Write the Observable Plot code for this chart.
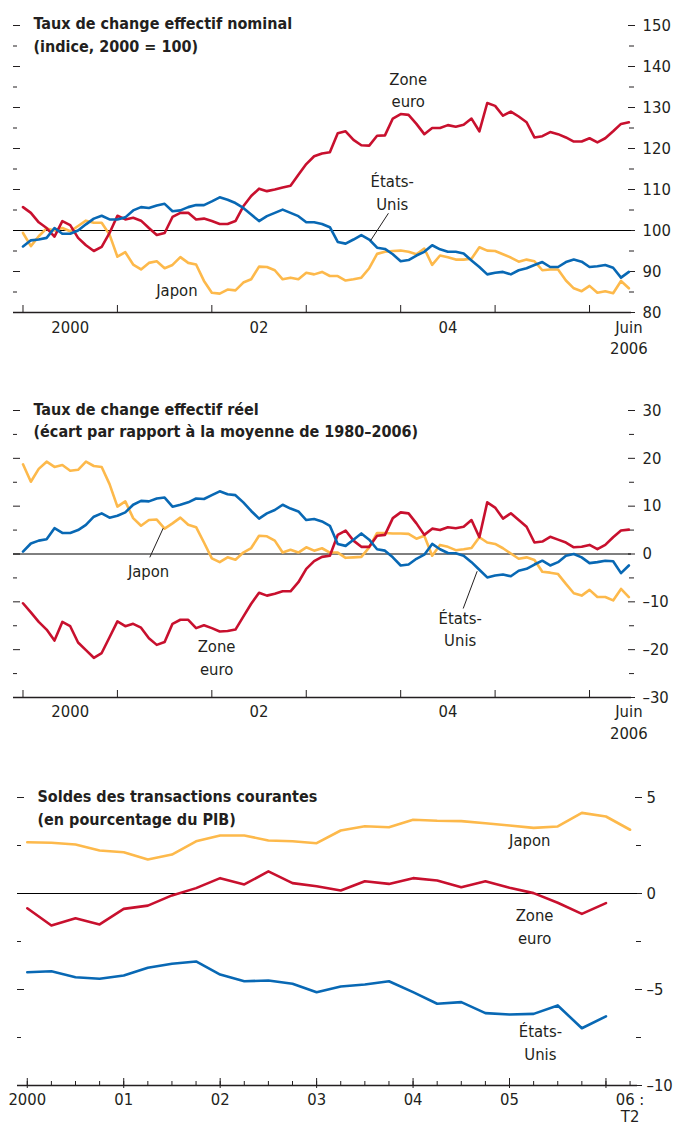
<!DOCTYPE html>
<html><head><meta charset="utf-8">
<script src="https://cdn.jsdelivr.net/npm/d3@7"></script>
<script src="https://cdn.jsdelivr.net/npm/@observablehq/plot@0.6"></script>
<style>
body{margin:0;background:#fff;}
#chart svg{display:block;}
</style></head><body><div id="chart"></div>
<script>
// ---------- DATA ----------
const seriesNames = ["Japon", "Zone euro", "États-Unis"];
const startYear = 2000; // monthly series start January 2000, end June 2006

// Taux de change effectif nominal (indice, 2000 = 100), mensuel
const nominalEuro = [105.7,104.3,102.0,100.6,98.5,102.3,101.3,98.2,96.4,95.0,96.0,99.4,103.6,102.7,103.1,102.4,100.6,98.9,99.4,103.3,104.3,104.3,102.7,102.9,102.3,101.6,
  101.6,102.3,105.9,108.4,110.2,109.6,110.0,110.5,110.9,113.6,116.2,118.1,118.8,119.1,123.7,124.2,122.1,120.8,120.7,123.1,123.2,127.3,128.4,128.2,126.0,
  123.5,125.0,125.0,125.7,125.3,125.8,127.3,124.2,131.1,130.4,128.0,129.0,127.8,126.4,122.7,123.0,124.0,123.5,122.7,121.7,121.7,122.5,121.5,122.5,124.2,126.0,126.4];
const nominalUS = [96.1,97.6,97.8,98.2,100.6,99.2,99.2,100.0,101.5,102.9,103.6,102.7,102.7,103.2,104.9,105.7,105.5,106.1,106.5,104.7,104.9,105.7,106.2,106.2,107.1,108.1,
  107.5,106.7,105.5,103.9,102.3,103.5,104.3,105.1,104.3,103.5,102.0,102.0,101.6,100.8,97.2,96.8,97.8,98.9,97.8,95.8,95.5,94.2,92.5,92.8,93.9,
  94.8,96.4,95.4,94.8,94.8,94.4,92.7,91.1,89.3,89.7,89.9,89.3,90.3,90.8,91.6,92.3,91.1,91.1,92.3,92.9,92.4,91.1,91.3,91.6,90.9,88.5,89.9];
const nominalJapan = [99.4,96.2,98.6,100.5,100.0,100.6,99.8,101.1,102.4,101.9,101.9,99.0,93.6,94.7,91.7,90.5,92.1,92.5,90.8,91.6,93.5,92.1,91.7,87.7,84.8,84.6,
  85.6,85.4,87.3,88.1,91.2,91.1,90.3,88.1,88.5,88.1,89.7,89.3,89.9,88.9,88.9,87.8,88.1,88.5,90.8,94.3,94.8,95.0,95.1,94.8,94.2,
  95.6,91.6,93.9,93.5,92.9,92.9,93.1,95.9,95.1,95.0,94.2,93.4,92.4,92.9,92.5,90.3,90.5,90.5,87.8,85.9,85.2,86.5,84.8,85.2,84.7,87.7,85.9];

// Taux de change effectif réel (écart par rapport à la moyenne de 1980–2006), mensuel
const realJapan = [18.75,15.1,17.8,19.3,18.2,18.6,17.4,17.6,19.3,18.4,18.2,14.6,9.9,11.0,7.5,5.9,7.1,7.2,5.3,6.4,7.6,6.1,5.6,2.4,-0.9,-1.7,
  -0.7,-1.2,0.3,1.25,3.8,3.7,2.8,0.3,0.9,0.3,1.4,0.7,1.2,0.3,0.3,-0.8,-0.7,-0.6,1.4,4.4,4.4,4.3,4.3,4.2,3.2,
  3.8,-0.35,1.9,1.5,0.8,1.0,1.25,3.5,2.4,2.1,1.2,0.1,-1.0,-0.7,-1.25,-3.7,-3.9,-4.2,-6.25,-8.2,-8.7,-7.5,-9.0,-9.0,-9.7,-7.3,-9.0];
const realEuro = [-10.3,-12.2,-14.2,-15.8,-18.1,-14.2,-15.1,-18.5,-20.1,-21.7,-20.7,-17.4,-14.1,-15.1,-14.6,-15.4,-17.6,-19.0,-18.4,-14.6,-13.75,-13.75,-15.5,-14.9,-15.5,-16.2,
  -16.1,-15.8,-13.1,-10.4,-8.1,-8.7,-8.3,-7.8,-7.8,-5.9,-3.1,-1.5,-0.6,-0.35,4.0,4.9,2.8,1.5,1.5,3.8,4.0,7.5,8.7,8.5,6.4,
  4.0,5.3,5.0,5.6,5.4,5.7,7.1,3.5,10.8,9.7,7.4,8.5,7.1,5.7,2.4,2.6,3.6,3.0,2.4,1.4,1.5,1.9,1.0,1.9,3.5,4.9,5.1];
const realUS = [0.5,2.2,2.8,3.1,5.4,4.4,4.4,5.0,6.1,7.8,8.5,7.6,8.0,8.7,10.3,11.1,11.0,11.6,11.8,9.9,10.3,10.8,11.6,11.5,12.3,13.1,
  12.5,12.3,10.8,9.0,7.4,8.5,9.2,10.3,9.5,8.9,7.1,7.3,6.8,5.9,2.1,1.7,3.0,4.3,3.0,1.0,0.7,-0.7,-2.4,-2.2,-1.0,
  -0.15,2.1,1.0,0.2,0.15,-0.35,-1.7,-3.3,-4.9,-4.5,-4.3,-4.65,-3.5,-3.1,-2.2,-1.4,-2.4,-1.7,-0.35,0,-0.7,-1.9,-1.7,-1.4,-1.5,-4.0,-2.4];

// Soldes des transactions courantes (en % du PIB), trimestriel 2000 T1 – 2006 T2
const caJapan = [2.67,2.64,2.55,2.24,2.15,1.77,2.03,2.72,3.02,3.02,2.76,2.72,2.62,3.28,3.50,3.45,3.84,3.79,3.77,3.66,3.54,3.42,3.49,4.20,4.01,3.32];
const caEuro = [-0.77,-1.67,-1.29,-1.61,-0.80,-0.63,-0.10,0.28,0.80,0.47,1.15,0.54,0.38,0.16,0.64,0.50,0.80,0.68,0.33,0.64,0.30,0.02,-0.48,-1.06,-0.50];
const caUS = [-4.10,-4.05,-4.36,-4.44,-4.27,-3.87,-3.66,-3.54,-4.22,-4.57,-4.53,-4.70,-5.14,-4.84,-4.74,-4.57,-5.14,-5.74,-5.66,-6.23,-6.30,-6.27,-5.83,-7.02,-6.40];

// Tick labels
const yearTicks = [2000, 2001, 2002, 2003, 2004, 2005, 2006];
const monthlyAxisLabels = [[2000.5, "2000"], [2002.5, "02"], [2004.5, "04"], [2006 + 5/12, "Juin\n2006"]];
const quarterlyAxisLabels = [[2000, "2000"], [2001, "01"], [2002, "02"], [2003, "03"], [2004, "04"], [2005, "05"], [2006.25, "06 :\nT2"]];

// Titles
const titles = [
  "Taux de change effectif nominal\n(indice, 2000 = 100)",
  "Taux de change effectif réel\n(écart par rapport à la moyenne de 1980–2006)",
  "Soldes des transactions courantes\n(en pourcentage du PIB)"
];

// Annotations (data coordinates)
const notes1 = [
  {x: 2004.08, y: 134.6, text: "Zone\neuro"},
  {x: 2003.91, y: 109.6, text: "États-\nUnis"},
  {x: 2001.63, y: 85.8, text: "Japon"}
];
const leaders1 = [{x1: 2003.87, y1: 104.2, x2: 2003.68, y2: 97.5}];
const notes2 = [
  {x: 2001.33, y: -3.3, text: "Japon"},
  {x: 2002.05, y: -21.4, text: "Zone\neuro"},
  {x: 2004.63, y: -15.4, text: "États-\nUnis"}
];
const leaders2 = [
  {x1: 2001.485, y1: 5.4, x2: 2001.343, y2: -0.7},
  {x1: 2004.81, y1: -3.6, x2: 2004.662, y2: -11.4}
];
const notes3 = [
  {x: 2005.21, y: 2.86, text: "Japon"},
  {x: 2005.26, y: -1.65, text: "Zone\neuro"},
  {x: 2005.32, y: -7.7, text: "États-\nUnis"}
];

// ---------- STYLE ----------
const RED = "#c8102e", BLUE = "#0868b4", YEL = "#fdb94b", INK = "#231f20";
const FONT = '"Liberation Sans Narrow","Arial Narrow","DejaVu Sans Condensed","Roboto Condensed",sans-serif';
const FS = 16.5, TFS = 16;
const fmt = d => d < 0 ? "–" + (-d) : String(d);

const monthly = arr => arr.map((v, i) => ({x: startYear + i / 12, v}));
const quarterly = arr => arr.map((v, i) => ({x: startYear + i / 4, v}));
const range = (a, b, s) => d3.range(a, b + s / 2, s);

function yTicks(majors, minors, dxRight, padRight) {
  return [
    Plot.axisY({anchor: "left", ticks: majors, tickSize: 7, dx: 7, fill: "none", stroke: INK, label: null}),
    Plot.axisY({anchor: "left", ticks: minors, tickSize: 4, dx: 4, fill: "none", stroke: INK, label: null}),
    Plot.axisY({anchor: "right", ticks: majors, tickSize: 7, dx: dxRight, tickPadding: padRight, tickFormat: fmt, fill: INK, stroke: INK, fontSize: FS, label: null}),
    Plot.axisY({anchor: "right", ticks: minors, tickSize: 5, dx: dxRight + 1, fill: "none", stroke: INK, label: null})
  ];
}

function monthlyPanel({title, height, marginTop, marginBottom, yDomain, majors, minors, ref, base, jp, eu, us, notes, leaders, tdy, tlh, xpad}) {
  return Plot.plot({
    width: 674, height, marginTop, marginBottom, marginLeft: 13, marginRight: 43,
    style: {fontFamily: FONT, fontSize: FS + "px", color: INK, background: "#fff"},
    x: {type: "linear", domain: [1999.8994, 2006.4445]},
    y: {domain: yDomain},
    marks: [
      ...yTicks(majors, minors, -4, 8),
      Plot.axisX({anchor: "bottom", ticks: yearTicks, tickSize: 7, dy: -7, fill: "none", stroke: INK, label: null}),
      Plot.axisX({anchor: "bottom", ticks: monthlyAxisLabels.map(d => d[0]), tickSize: 0, tickPadding: xpad,
        tickFormat: d => monthlyAxisLabels.find(e => e[0] === d)[1], lineHeight: 1.3, fill: INK, fontSize: FS, label: null}),
      Plot.ruleY([ref], {stroke: "#000", strokeWidth: 1}),
      Plot.ruleY([base], {stroke: INK, strokeWidth: 1.6}),
      Plot.line(monthly(jp), {x: "x", y: "v", stroke: YEL, strokeWidth: 2.6}),
      Plot.line(monthly(eu), {x: "x", y: "v", stroke: RED, strokeWidth: 2.6}),
      Plot.line(monthly(us), {x: "x", y: "v", stroke: BLUE, strokeWidth: 2.6}),
      Plot.link(leaders, {x1: "x1", y1: "y1", x2: "x2", y2: "y2", stroke: INK, strokeWidth: 1}),
      Plot.text(notes, {x: "x", y: "y", text: "text", fill: INK, fontSize: FS, lineHeight: 1.38}),
      Plot.text([title], {text: d => d, frameAnchor: "top-left", textAnchor: "start", lineAnchor: "top", dx: 20, dy: tdy,
        fontWeight: "bold", fontSize: TFS, lineHeight: tlh, fill: INK})
    ]
  });
}

const p1 = monthlyPanel({title: titles[0], height: 370, marginTop: 25, marginBottom: 58, yDomain: [80, 150],
  majors: range(80, 150, 10), minors: range(85, 145, 10), ref: 100, base: 80,
  jp: nominalJapan, eu: nominalEuro, us: nominalUS, notes: notes1, leaders: leaders1, tdy: -12.4, tlh: 1.44, xpad: 5});

const p2 = monthlyPanel({title: titles[1], height: 390, marginTop: 40, marginBottom: 63, yDomain: [-30, 30],
  majors: range(-30, 30, 10), minors: range(-25, 25, 10), ref: 0, base: -30,
  jp: realJapan, eu: realEuro, us: realUS, notes: notes2, leaders: leaders2, tdy: -12.1, tlh: 1.42, xpad: 4.5});

const p3 = Plot.plot({
  width: 674, height: 366, marginTop: 37, marginBottom: 41, marginLeft: 17, marginRight: 37,
  style: {fontFamily: FONT, fontSize: FS + "px", color: INK, background: "#fff"},
  x: {type: "linear", domain: [1999.8986, 2006.327]},
  y: {domain: [-10, 5]},
  marks: [
    ...yTicks(range(-10, 5, 5), range(-7.5, 2.5, 5), -3, 5),
    Plot.axisX({anchor: "bottom", ticks: range(2000, 2006.25, 0.25), tickSize: 4, dy: -4, fill: "none", stroke: INK, label: null}),
    Plot.axisX({anchor: "bottom", ticks: yearTicks, tickSize: 10, dy: -7, fill: "none", stroke: INK, label: null}),
    Plot.axisX({anchor: "bottom", ticks: quarterlyAxisLabels.map(d => d[0]), tickSize: 0, tickPadding: 7,
      tickFormat: d => quarterlyAxisLabels.find(e => e[0] === d)[1], lineHeight: 1.05, fill: INK, fontSize: FS, label: null}),
    Plot.ruleY([0], {stroke: "#000", strokeWidth: 1}),
    Plot.ruleY([-10], {stroke: INK, strokeWidth: 1.6}),
    Plot.line(quarterly(caJapan), {x: "x", y: "v", stroke: YEL, strokeWidth: 2.6}),
    Plot.line(quarterly(caEuro), {x: "x", y: "v", stroke: RED, strokeWidth: 2.6}),
    Plot.line(quarterly(caUS), {x: "x", y: "v", stroke: BLUE, strokeWidth: 2.6}),
    Plot.text(notes3, {x: "x", y: "y", text: "text", fill: INK, fontSize: FS, lineHeight: 1.38}),
    Plot.text([titles[2]], {text: d => d, frameAnchor: "top-left", textAnchor: "start", lineAnchor: "top", dx: 20, dy: -11.8,
      fontWeight: "bold", fontSize: TFS, lineHeight: 1.45, fill: INK})
  ]
});

const root = document.getElementById("chart");
root.append(p1, p2, p3);
</script>
</body></html>
